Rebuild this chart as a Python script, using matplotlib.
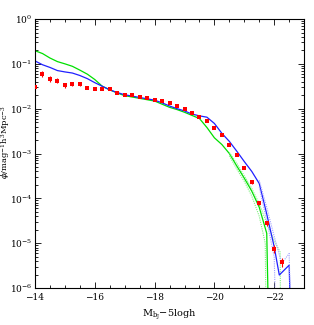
import numpy as np
import matplotlib
matplotlib.use("Agg")
import matplotlib.pyplot as plt
from matplotlib.ticker import MultipleLocator, LogLocator, NullFormatter, FixedLocator

# observed luminosity function (log10 phi), error in dex
obs_mag = [-14.0, -14.25, -14.5, -14.75, -15.0, -15.25, -15.5, -15.75, -16.0, -16.25,
           -16.5, -16.75, -17.0, -17.25, -17.5, -17.75, -18.0, -18.25, -18.5, -18.75,
           -19.0, -19.25, -19.5, -19.75, -20.0, -20.25, -20.5, -20.75, -21.0, -21.25,
           -21.5, -21.75, -22.0, -22.25]
obs_logphi = [-1.51, -1.23, -1.345, -1.376, -1.48, -1.443, -1.443, -1.539, -1.56, -1.555,
              -1.57, -1.66, -1.70, -1.695, -1.73, -1.76, -1.80, -1.82, -1.88, -1.94,
              -2.01, -2.10, -2.18, -2.28, -2.43, -2.595, -2.80, -3.03, -3.32, -3.64,
              -4.11, -4.56, -5.13, -5.43]
obs_err = [0.03, 0.07, 0.07, 0.05, 0.05, 0.04, 0.04, 0.02, 0.02, 0.02,
           0.02, 0.02, 0.02, 0.02, 0.02, 0.02, 0.02, 0.02, 0.02, 0.02,
           0.02, 0.02, 0.02, 0.02, 0.02, 0.02, 0.02, 0.02, 0.03, 0.03,
           0.04, 0.05, 0.09, 0.10]

# model A (green)
green_mag = [-14.0, -14.25, -14.5, -14.75, -15.0, -15.25, -15.5, -15.75, -16.0, -16.25,
             -16.5, -16.75, -17.0, -17.25, -17.5, -17.75, -18.0, -18.25, -18.5, -18.75,
             -19.0, -19.25, -19.5, -19.75, -20.0, -20.25, -20.5, -20.75, -21.0, -21.25,
             -21.5, -21.75, -21.85]
green_logphi = [-0.707, -0.77, -0.87, -0.95, -1.0, -1.055, -1.14, -1.23, -1.35, -1.50,
                -1.58, -1.65, -1.71, -1.74, -1.77, -1.80, -1.83, -1.90, -1.97, -2.02,
                -2.08, -2.15, -2.22, -2.42, -2.65, -2.80, -3.0, -3.28, -3.55, -3.84,
                -4.2, -4.78, -8.0]
green_hi_mag = [-20.5, -20.75, -21.0, -21.25, -21.5, -21.75, -22.0, -22.2, -22.22]
green_hi_logphi = [-2.98, -3.22, -3.5, -3.78, -4.12, -4.55, -4.95, -5.2, -8.0]
green_lo_mag = [-20.5, -20.75, -21.0, -21.25, -21.5, -21.7, -21.75]
green_lo_logphi = [-3.05, -3.35, -3.62, -3.95, -4.4, -5.0, -8.0]

# model B (blue)
blue_mag = [-14.0, -14.25, -14.5, -14.75, -15.0, -15.25, -15.5, -15.75, -16.0, -16.25,
            -16.5, -16.75, -17.0, -17.25, -17.5, -17.75, -18.0, -18.25, -18.5, -18.75,
            -19.0, -19.25, -19.5, -19.75, -20.0, -20.25, -20.5, -20.75, -21.0, -21.25,
            -21.5, -21.75, -22.0, -22.17, -22.5, -22.6]
blue_logphi = [-0.935, -1.02, -1.08, -1.15, -1.18, -1.205, -1.26, -1.33, -1.42, -1.50,
               -1.58, -1.64, -1.69, -1.72, -1.75, -1.78, -1.81, -1.87, -1.94, -2.00,
               -2.05, -2.12, -2.16, -2.19, -2.33, -2.55, -2.73, -2.95, -3.18, -3.40,
               -3.67, -4.35, -5.08, -5.71, -5.49, -8.0]
blue_hi_mag = [-21.5, -21.75, -22.0, -22.25, -22.5, -22.6]
blue_hi_logphi = [-3.6, -4.2, -4.85, -5.45, -5.23, -8.0]
blue_lo_mag = [-21.5, -21.75, -22.0, -22.1]
blue_lo_logphi = [-3.75, -4.5, -5.3, -8.0]

plt.rcParams["font.family"] = "DejaVu Serif"
plt.rcParams["mathtext.fontset"] = "dejavuserif"

fig = plt.figure(figsize=(3.14, 3.25), dpi=100)
ax = fig.add_axes([0.1115, 0.1138, 0.857, 0.8277])

p = lambda v: 10.0 ** np.asarray(v)

ax.plot(green_mag, p(green_logphi), color="#00e000", lw=0.9)
ax.plot(green_hi_mag, p(green_hi_logphi), color="#7cf07c", lw=0.8, ls=(0, (1, 1)))
ax.plot(green_lo_mag, p(green_lo_logphi), color="#7cf07c", lw=0.8, ls=(0, (1, 1)))
ax.plot(blue_mag, p(blue_logphi), color="#2020ff", lw=0.9)
ax.plot(blue_hi_mag, p(blue_hi_logphi), color="#a0a0ff", lw=0.8, ls=(0, (1, 1)))
ax.plot(blue_lo_mag, p(blue_lo_logphi), color="#a0a0ff", lw=0.8, ls=(0, (1, 1)))

y = p(obs_logphi)
e = np.asarray(obs_err)
yerr = [y - y * 10 ** (-e), y * 10 ** e - y]
ax.errorbar(obs_mag, y, yerr=yerr, fmt="s", color="red", ms=3.2, mew=0,
            elinewidth=0.8, capsize=1.5, capthick=0.8, zorder=5)

ax.set_yscale("log")
ax.set_xlim(-14, -23)
ax.set_ylim(1e-6, 1)

ax.xaxis.set_major_locator(FixedLocator([-14, -16, -18, -20, -22]))
ax.xaxis.set_minor_locator(MultipleLocator(0.5))
ax.set_xticklabels(["\u221214", "\u221216", "\u221218", "\u221220", "\u221222"])
ax.yaxis.set_major_locator(LogLocator(base=10, numticks=10))
ax.yaxis.set_minor_locator(LogLocator(base=10, subs=np.arange(2, 10), numticks=10))
ax.yaxis.set_minor_formatter(NullFormatter())

ax.tick_params(which="both", direction="in", top=True, right=True, labelsize=6.5, width=0.6)
ax.tick_params(which="major", length=4)
ax.tick_params(which="minor", length=2)
ax.tick_params(axis="y", pad=2)
for s in ax.spines.values():
    s.set_linewidth(0.8)

ax.set_xlabel(r"M$_{\rm b_J}$$-$5logh", fontsize=7, labelpad=4)
ax.set_ylabel(r"$\phi$/mag$^{-1}$h$^3$Mpc$^{-3}$", fontsize=6)
ax.yaxis.set_label_coords(-0.085, 0.543)

fig.savefig("out.png", dpi=100)
